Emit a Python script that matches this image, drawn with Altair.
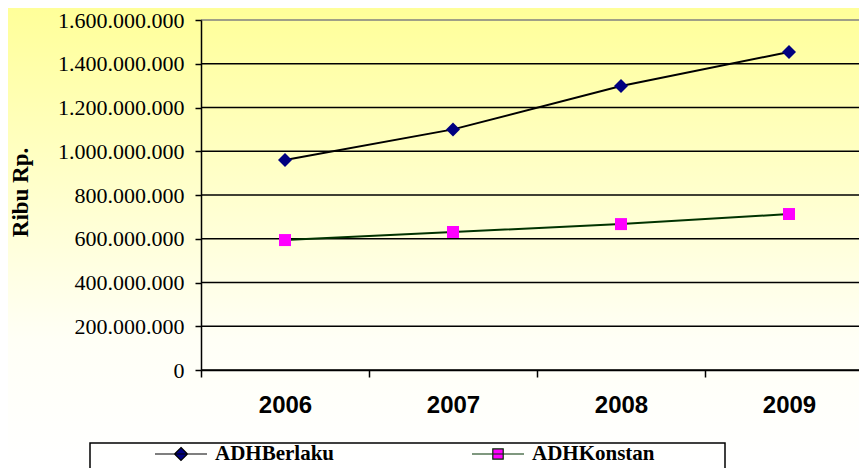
import altair as alt
import pandas as pd

years = ["2006", "2007", "2008", "2009"]
series_names = ["ADHBerlaku", "ADHKonstan"]
berlaku = [960_000_000, 1_100_000_000, 1_298_000_000, 1_454_000_000]
konstan = [594_000_000, 631_000_000, 667_000_000, 713_000_000]
y_ticks = [0, 200_000_000, 400_000_000, 600_000_000, 800_000_000,
           1_000_000_000, 1_200_000_000, 1_400_000_000, 1_600_000_000]

rows = []
for yr, b, k in zip(years, berlaku, konstan):
    rows.append({"year": yr, "series": "ADHBerlaku", "value": b})
    rows.append({"year": yr, "series": "ADHKonstan", "value": k})
df = pd.DataFrame(rows)
grid_df = pd.DataFrame({"value": y_ticks})
one = pd.DataFrame({"a": [0]})

W, H = 658, 350

x_enc = alt.X(
    "year:N",
    scale=alt.Scale(type="band", domain=years, range=[0, 672], paddingInner=0, paddingOuter=0),
    axis=alt.Axis(title=None, tickBand="extent", labelAngle=0, labelFont="Liberation Sans",
                  labelFontWeight="bold", labelFontSize=24, labelColor="black", labelPadding=16,
                  tickSize=7, tickColor="black", tickWidth=1.5, domainColor="black",
                  domainWidth=1.5, grid=False, zindex=1),
)
y_axis = alt.Axis(values=y_ticks, labelExpr="replace(format(datum.value, ','), /,/g, '.')",
                  grid=False, domainColor="black", domainWidth=1.5, tickColor="black",
                  tickWidth=1.5, tickSize=6, labelPadding=11,
                  labelFont="Liberation Serif, Times New Roman, serif",
                  labelFontSize=22, labelColor="black", title="Ribu Rp.",
                  titleFont="Liberation Serif, Times New Roman, serif", titleFontSize=23,
                  titleFontWeight="bold", titleColor="black", titleX=-181, titleY=172,
                  titleAlign="center", titleBaseline="middle", zindex=1)
y_scale = alt.Scale(domain=[0, 1_600_000_000], nice=False, zero=True)

def y_enc():
    return alt.Y("value:Q", scale=y_scale, axis=y_axis)

gradient = {
    "gradient": "linear", "x1": 0, "y1": 0, "x2": 0, "y2": 1,
    "stops": [
        {"offset": 0, "color": "#FFFF99"},
        {"offset": 0.72, "color": "#FFFFF6"},
        {"offset": 1, "color": "#FFFFFF"},
    ],
}

bg = alt.Chart(one).mark_rect(fill=gradient, clip=False).encode(
    x=alt.value(-193), x2=alt.value(W), y=alt.value(-12), y2=alt.value(H + 98)
)

legend_box = alt.Chart(one).mark_rect(fill="white", fillOpacity=0, stroke="black",
                                      strokeWidth=1.5, clip=False).encode(
    x=alt.value(-111), x2=alt.value(524), y=alt.value(423), y2=alt.value(470)
)

rules = alt.Chart(grid_df).mark_rule(strokeWidth=1.5).encode(
    y=y_enc(),
    color=alt.condition("datum.value >= 1600000000", alt.value("#808080"), alt.value("black")),
)

line_b = alt.Chart(df).transform_filter("datum.series == 'ADHBerlaku'").mark_line(
    color="black", strokeWidth=2).encode(x=x_enc, y=y_enc())
line_k = alt.Chart(df).transform_filter("datum.series == 'ADHKonstan'").mark_line(
    color="#003300", strokeWidth=2).encode(x=x_enc, y=y_enc())

pts_b = alt.Chart(df).transform_filter("datum.series == 'ADHBerlaku'").mark_point(
    shape="diamond", filled=True, size=196, color="#000080", opacity=1).encode(x=x_enc, y=y_enc())
pts_k = alt.Chart(df).transform_filter("datum.series == 'ADHKonstan'").mark_point(
    shape="square", filled=True, size=144, color="#FF00FF", opacity=1).encode(x=x_enc, y=y_enc())

sym_b = "M-1,0L1,0M0,-0.25L0.25,0L0,0.25L-0.25,0Z"
sym_k = "M-1,0L1,0M-0.2,-0.2L0.2,-0.2L0.2,0.2L-0.2,0.2Z"

leg = alt.Legend(orient="none", legendX=-47, legendY=407, direction="horizontal", columns=2,
                 title=None, labelFont="Liberation Serif, Times New Roman, serif", labelFontSize=21,
                 labelFontWeight="bold", labelColor="black", symbolSize=2704,
                 symbolStrokeWidth=1.2, symbolOpacity=1, columnPadding=134, padding=0,
                 labelOffset=7, labelLimit=400, zindex=1)

legend_layer = alt.Chart(df).transform_filter("false").mark_point(filled=True, opacity=1).encode(
    shape=alt.Shape("series:N", scale=alt.Scale(domain=series_names, range=[sym_b, sym_k]), legend=leg),
    fill=alt.Fill("series:N", scale=alt.Scale(domain=series_names, range=["#000080", "#FF00FF"]), legend=leg),
    stroke=alt.Stroke("series:N", scale=alt.Scale(domain=series_names, range=["black", "#003300"]), legend=leg),
)

chart = alt.layer(bg, legend_box, rules, line_b, line_k, pts_b, pts_k, legend_layer).properties(
    width=W, height=H,
    autosize=alt.AutoSizeParams(type="none"),
    padding={"left": 193, "top": 12, "right": 0, "bottom": 98},
    background="#FFFFFF",
).configure_view(strokeWidth=0)

chart.save("out.html", embed_options={"renderer": "svg", "actions": False})
